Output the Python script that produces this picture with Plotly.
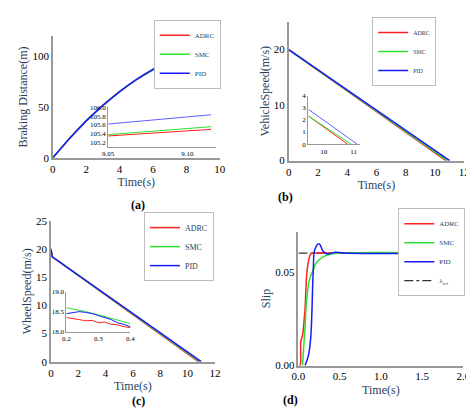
import plotly.graph_objects as go

W, H = 474, 415
RED, GREEN, BLUE = "#ff2020", "#30e030", "#1a1aff"
FONT = "Liberation Serif"

# (a) braking distance
ta = [0, 1, 2, 3, 4, 5, 6, 7, 8, 9, 9.3]
da = [0, 19.1, 36.4, 51.8, 65.4, 77.2, 87.2, 95.4, 101.8, 105.3, 106.6]
ta_in = [9.05, 9.115]
da_adrc = [105.35, 105.5]
da_smc = [105.38, 105.56]
da_pid = [105.62, 105.83]

# (b) vehicle speed
vb_t0 = [0, 10.75]; vb_t1 = [0, 10.85]; vb_t2 = [0, 11.0]
vb_v = [20, 0]
vb_in_adrc_t = [9.5, 10.8]; vb_in_smc_t = [9.5, 10.92]; vb_in_pid_t = [9.5, 11.12]
vb_in_adrc_v = [2.3, 0]; vb_in_smc_v = [2.3, 0]; vb_in_pid_v = [2.85, 0]

# (c) wheel speed
tc_adrc = [0, 0.05, 0.1, 10.8]; tc_smc = [0, 0.05, 0.1, 10.9]; tc_pid = [0, 0.05, 0.1, 11.0]
wc = [20, 18.9, 18.6, 0]
tc_in = [0.2, 0.22, 0.24, 0.26, 0.28, 0.30, 0.32, 0.34, 0.36, 0.38, 0.40]
wc_adrc = [18.35, 18.33, 18.3, 18.27, 18.28, 18.22, 18.24, 18.18, 18.17, 18.12, 18.1]
wc_smc = [18.6, 18.57, 18.53, 18.5, 18.46, 18.42, 18.38, 18.33, 18.29, 18.24, 18.2]
wc_pid = [18.45, 18.47, 18.5, 18.48, 18.45, 18.4, 18.35, 18.3, 18.22, 18.18, 18.12]

# (d) slip
td_adrc = [0, 0.02, 0.03, 0.05, 0.08, 0.1, 0.12, 0.15, 0.18, 0.2, 2.0]
sd_adrc = [0, 0, 0.013, 0.016, 0.03, 0.048, 0.055, 0.0595, 0.06, 0.06, 0.06]
td_smc = [0.05, 0.08, 0.1, 0.13, 0.17, 0.22, 0.3, 0.4, 0.5, 2.0]
sd_smc = [0, 0.02, 0.035, 0.045, 0.05, 0.055, 0.058, 0.0595, 0.06, 0.06]
td_pid = [0.08, 0.12, 0.15, 0.18, 0.2, 0.25, 0.3, 0.35, 0.45, 0.55, 2.0]
sd_pid = [0, 0.005, 0.015, 0.05, 0.062, 0.065, 0.061, 0.0595, 0.0605, 0.06, 0.06]
td_ref = [0, 2.0]; sd_ref = [0.06, 0.06]

fig = go.Figure()

def dom_x(a, b): return [a / W, b / W]
def dom_y(top, bot): return [1 - bot / H, 1 - top / H]

def axes(n, xd, yd, xr, yr, xt=None, yt=None, xtitle=None, ytitle=None, fs=11, inset=False):
    lw = 1.5 if not inset else 1
    common = dict(showline=True, linecolor="#999", linewidth=lw, showgrid=False, zeroline=False,
                  ticks="", tickfont=dict(family=FONT, size=fs, color="black"))
    xa = dict(common, domain=xd, range=xr, anchor="y" + ("" if n == 1 else str(n)))
    ya = dict(common, domain=yd, range=yr, anchor="x" + ("" if n == 1 else str(n)))
    if xt: xa["tickvals"] = xt
    if yt: ya["tickvals"] = yt
    if xtitle: xa["title"] = dict(text=xtitle, font=dict(family=FONT, size=12), standoff=4)
    if ytitle: ya["title"] = dict(text=ytitle, font=dict(family=FONT, size=12), standoff=2)
    k = "" if n == 1 else str(n)
    fig.update_layout(**{"xaxis" + k: xa, "yaxis" + k: ya})

def line(n, x, y, c, name=None, leg=None, w=1.5, dash=None, shape="linear", rank=1000):
    k = "" if n == 1 else str(n)
    fig.add_trace(go.Scatter(x=x, y=y, mode="lines", xaxis="x" + k, yaxis="y" + k,
                             line=dict(color=c, width=w, dash=dash, shape=shape),
                             name=name, showlegend=leg is not None, legend=leg or "legend",
                             legendrank=rank))

# panel a
axes(1, dom_x(39, 211), dom_y(23, 148), [0, 10], [0, 120], [0, 2, 4, 6, 8, 10], [0, 50, 100],
     "Time(s)", "Braking Distance(m)")
line(1, ta, da, RED, "ADRC", "legend")
line(1, ta, da, GREEN, "SMC", "legend")
line(1, ta, da, BLUE, "PID", "legend", shape="spline")
axes(2, dom_x(96, 207), dom_y(96, 137), [9.05, 9.118], [105.1, 106.0], [9.05, 9.10],
     [105.2, 105.4, 105.6, 105.8, 106.0], fs=7, inset=True)
fig.update_layout(xaxis2_tickformat=".2f", yaxis2_tickformat=".1f")
line(2, ta_in, da_adrc, RED, w=1)
line(2, ta_in, da_smc, GREEN, w=1)
line(2, ta_in, da_pid, "#6060ff", w=1)

# panel b
axes(3, dom_x(282, 463), dom_y(8, 151), [0, 12], [0, 25], [0, 2, 4, 6, 8, 10, 12], [0, 10, 20],
     "Time(s)", "VehicleSpeed(m/s)")
line(3, vb_t0, vb_v, RED, "ADRC", "legend2")
line(3, vb_t1, vb_v, GREEN, "SMC", "legend2")
line(3, vb_t2, vb_v, BLUE, "PID", "legend2")
axes(4, dom_x(302, 355), dom_y(84, 134), [9.48, 11.2], [0, 4], [10, 11], [0, 1, 2, 3, 4], fs=7, inset=True)
line(4, vb_in_adrc_t, vb_in_adrc_v, RED, w=1)
line(4, vb_in_smc_t, vb_in_smc_v, GREEN, w=1)
line(4, vb_in_pid_t, vb_in_pid_v, "#6060ff", w=1)

# panel c
axes(5, dom_x(37, 206), dom_y(213, 358), [0, 12], [0, 25], [0, 2, 4, 6, 8, 10, 12], [0, 5, 10, 15, 20, 25],
     "Time(s)", "WheelSpeed(m/s)")
line(5, tc_adrc, wc, RED, "ADRC", "legend3")
line(5, tc_smc, wc, GREEN, "SMC", "legend3")
line(5, tc_pid, wc, BLUE, "PID", "legend3")
axes(6, dom_x(53, 119), dom_y(286, 327), [0.2, 0.4], [18.0, 19.0], [0.2, 0.3, 0.4], [18.0, 18.5, 19.0],
     fs=7, inset=True)
fig.update_layout(yaxis6_tickformat=".1f", xaxis6_tickformat=".1f")
line(6, tc_in, wc_adrc, RED, w=1)
line(6, tc_in, wc_smc, GREEN, w=1)
line(6, tc_in, wc_pid, BLUE, w=1)

# panel d
axes(7, dom_x(292, 462), dom_y(224, 362), [0, 2], [0, 0.0715], [0, 0.5, 1, 1.5, 2], [0, 0.05],
     "Time(s)", "Slip")
fig.update_layout(xaxis7_tickformat=".1f", yaxis7_tickformat=".2f")
line(7, td_ref, sd_ref, "#333", "λ<sub>ref</sub>", "legend4", w=1.2, dash="dashdot", rank=4)
line(7, td_adrc, sd_adrc, RED, "ADRC", "legend4", shape="spline", rank=1)
line(7, td_smc, sd_smc, GREEN, "SMC", "legend4", shape="spline", rank=2)
line(7, td_pid, sd_pid, BLUE, "PID", "legend4", shape="spline", rank=3)

def legend(x, y, fs):
    return dict(x=x / W, y=1 - y / H, xanchor="right", yanchor="top", bgcolor="white",
                bordercolor="#bbb", borderwidth=1, font=dict(family=FONT, size=fs),
                tracegroupgap=0, itemwidth=30, traceorder="normal")

fig.update_layout(
    width=W, height=H, margin=dict(l=0, r=0, t=0, b=0),
    plot_bgcolor="rgba(0,0,0,0)", paper_bgcolor="white",
    legend=legend(212, 6, 7), legend2=legend(434, 3, 6), legend3=legend(205, 204, 8),
    legend4=legend(464, 200, 7),
)
for lab, x, y in [("(a)", 117, 197), ("(b)", 279, 188), ("(c)", 118, 408), ("(d)", 284, 407)]:
    fig.add_annotation(text="<b>" + lab + "</b>", x=x / W, y=1 - y / H, xref="paper", yref="paper",
                       showarrow=False, font=dict(family=FONT, size=12, color="black"))

fig.write_html("out.html")
